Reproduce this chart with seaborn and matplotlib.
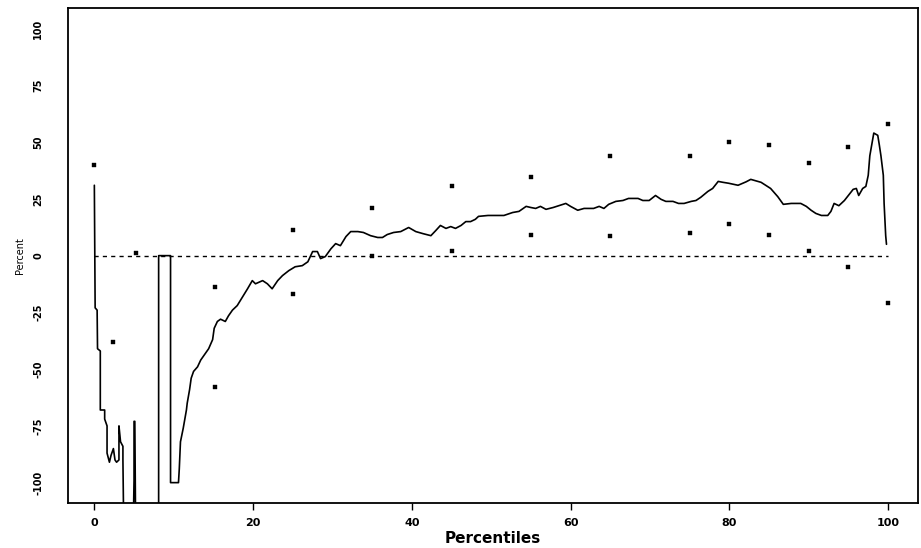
import numpy as np
import pandas as pd
import seaborn as sns
import matplotlib.pyplot as plt

# percentile curve; values below -109 run off the bottom of the plot
pct = [0.0, 0.05, 0.1, 0.35, 0.4, 0.75, 0.75, 1.3, 1.3, 1.6, 1.6, 1.9, 2.1, 2.4, 2.6, 2.8,
       3.1, 3.1, 3.3, 3.6, 3.6, 3.7, 4.9, 5.0, 5.0, 5.1, 5.2, 8.1, 8.1, 9.6, 9.6, 10.2, 10.6,
       10.7, 10.85, 11.2, 11.6, 11.7, 12.0, 12.2, 12.5, 13.0, 13.4, 14.0, 14.4, 14.9, 15.1,
       15.5, 15.9, 16.5, 16.9, 17.4, 18.0, 18.7, 19.3, 19.9, 20.3, 21.2, 21.8, 22.4, 23.1,
       23.7, 24.5, 25.3, 26.2, 26.9, 27.5, 28.1, 28.5, 29.1, 29.8, 30.4, 31.0, 31.7, 32.3,
       33.2, 33.9, 34.8, 35.7, 36.3, 36.9, 37.7, 38.6, 39.6, 40.5, 41.4, 42.4, 43.0, 43.6,
       44.3, 44.9, 45.5, 46.2, 46.8, 47.4, 48.0, 48.4, 49.6, 50.8, 51.6, 52.7, 53.5, 54.4,
       55.0, 55.6, 56.2, 56.9, 57.8, 58.5, 59.4, 60.0, 60.9, 61.7, 62.9, 63.6, 64.2, 64.8,
       65.7, 66.6, 67.3, 68.5, 69.1, 69.9, 70.7, 71.4, 72.0, 72.9, 73.6, 74.3, 75.2, 75.8,
       76.4, 77.3, 77.9, 78.6, 79.2, 79.9, 81.1, 82.1, 82.7, 84.0, 85.2, 86.1, 86.8, 87.8,
       89.0, 89.7, 90.3, 90.9, 91.6, 92.4, 92.8, 93.2, 93.8, 94.5, 95.0, 95.6, 96.0, 96.3,
       96.8, 97.2, 97.5, 97.7, 98.1, 98.2, 98.7, 98.9, 99.1, 99.4, 99.5, 99.7, 99.8]
diff = [31, 3, -23, -24, -41, -42, -68, -68, -72, -75, -87, -91, -88, -85, -90, -91,
        -90, -75, -82, -84, -90, -120, -120, -99, -73, -73, -120, -120, 0, 0, -100, -100, -100,
        -94, -82, -76, -68, -65, -59, -54, -51, -49, -46, -43, -41, -37, -32,
        -29, -28, -29, -26.5, -24, -22, -18, -14.6, -11, -12.4, -11, -12.4, -14.6, -11,
        -8.8, -6.6, -4.9, -4.4, -2.7, 1.8, 1.8, -1.3, -0.4, 3, 5.3, 4.4, 8.4, 10.6,
        10.6, 10.2, 8.8, 8, 8, 9.3, 10.2, 10.6, 12.4, 10.6, 9.7, 8.8, 11, 13.3,
        12, 12.8, 12, 13.3, 15, 15, 16, 17.3, 17.7, 17.7, 17.7, 19, 19.5, 21.7,
        21.2, 20.8, 21.7, 20.4, 21.2, 22, 23, 21.7, 20, 20.8, 20.8, 21.7, 20.8, 22.6,
        23.9, 24.3, 25.2, 25.2, 24.3, 24.3, 26.5, 24.8, 23.9, 23.9, 23, 23, 23.9, 24.3,
        25.7, 28.3, 29.6, 32.7, 32.3, 31.9, 31, 32.5, 33.6, 32.3, 29.6, 26, 22.6, 23,
        23, 21.7, 20, 18.6, 17.7, 17.7, 19.5, 23, 22, 24.3, 26.5, 29.2, 29.6, 26.5,
        29.6, 30.5, 35.4, 44, 51.8, 54, 53, 48.7, 44, 35.4, 23, 8.8, 5]

# bound points
pt_x = [0, 2.4, 5.2, 15.2, 15.2, 25, 25, 35, 35, 45, 45, 55, 55, 65, 65, 75, 75,
        80, 80, 85, 85, 90, 90, 95, 95, 100, 100]
pt_y = [40, -38, 1.3, -13.7, -58, 11.5, -17, 20.8, 0, 30.5, 2, 34.5, 9.3, 43.8, 8.8,
        43.8, 10, 50, 14, 48.7, 9.3, 41, 2, 48, -5, 58, -21]

x_ticks = [0, 20, 40, 60, 80, 100]
y_ticks = [-100, -75, -50, -25, 0, 25, 50, 75, 100]

line_df = pd.DataFrame({"pct": pct, "diff": diff})
pts_df = pd.DataFrame({"pct": pt_x, "diff": pt_y})

sns.set_style("ticks")
plt.rcParams['font.family'] = ['DejaVu Sans']

fig = plt.figure(figsize=(9.21, 5.48), dpi=100)
ax = fig.add_axes([0.074, 0.082, 0.923, 0.903])

ax.hlines(0, x_ticks[0], x_ticks[-1], colors="black", linestyles=(0, (3, 3)), lw=1.0)
sns.lineplot(data=line_df, x="pct", y="diff", sort=False, estimator=None,
             color="black", lw=1.2, ax=ax)
sns.scatterplot(data=pts_df, x="pct", y="diff", marker="s", s=12, color="black",
                edgecolor="black", ax=ax)

ax.set_xlim(-3.3, 103.8)
ax.set_ylim(-109, 109)
ax.set_xticks(x_ticks)
ax.set_yticks(y_ticks)
ax.set_yticklabels([str(v) for v in y_ticks], rotation=90, va="center", fontsize=7,
                   fontweight="bold")
ax.tick_params(axis="x", labelsize=8, length=5, width=1, pad=6, colors="black")
ax.tick_params(axis="y", length=0, pad=18, colors="black")
for lab in ax.get_xticklabels():
    lab.set_fontweight("bold")
ax.set_xlabel("Percentiles", fontsize=11, labelpad=2, fontweight="bold", color="black")
ax.set_ylabel("Percent", fontsize=7, labelpad=6, color="black")
for s in ax.spines.values():
    s.set_linewidth(1.3)
    s.set_color("black")

plt.savefig("out.png", dpi=100)
